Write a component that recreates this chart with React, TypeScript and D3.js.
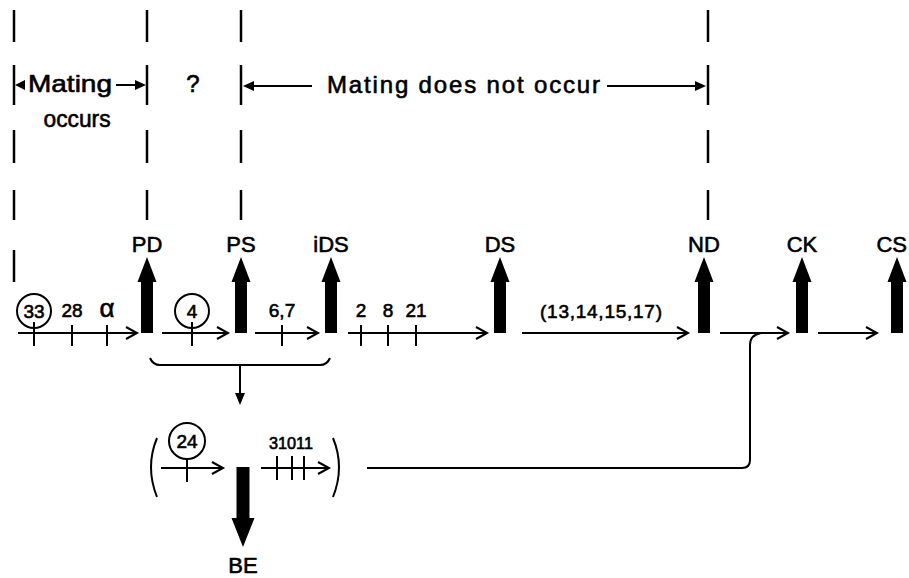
import React from "react";
import * as d3 from "d3";

const W = 909;
const H = 578;

// developmental stages on the main pathway (thick up arrows)
const stages = ["PD", "PS", "iDS", "DS", "ND", "CK", "CS"];
const stagePos = [147, 241, 331, 500, 704, 802, 897];

// thin arrows between stages: [start, end]
const mainSegments = [
  [18, 137],
  [162, 228],
  [255, 318],
  [348, 487],
  [522, 688],
  [720, 788],
  [818, 877],
];

// mutant blocks marked on the main line
const mainGenes = ["33", "28", "α", "4", "6,7", "2", "8", "21"];
const mainGenePos = [34, 72, 107, 192, 282, 361, 388, 416];
const mainGeneCircled = [true, false, false, true, false, false, false, false];

// side branch (BE)
const branchSegments = [
  [161, 223],
  [261, 329],
];
const branchGenePos = [187, 277, 292, 304];
const branchGeneLabels = ["24", "31011"];

// dashed boundaries between mating / non-mating phases
const boundaryPos = [14, 147, 241, 708];
const dashSpans = [
  [10, 42],
  [65, 105],
  [130, 163],
  [190, 220],
];

const x = d3.scaleLinear().domain([0, W]).range([0, W]);
const yMain = 333;
const yBranch = 468;
const FONT = "'Liberation Sans', Arial, sans-serif";

const chevron = (tx: number, ty: number, dir = 1) =>
  `M${tx - dir * 11},${ty - 6}L${tx},${ty}L${tx - dir * 11},${ty + 6}`;

const thickUp = (cx: number, y0: number) =>
  `M${cx - 6},${y0}L${cx - 6},${y0 - 51}L${cx - 9.5},${y0 - 51}L${cx},${y0 - 76}L${cx + 9.5},${y0 - 51}L${cx + 6},${y0 - 51}L${cx + 6},${y0}Z`;

const thickDown = (cx: number, y0: number) =>
  `M${cx - 6.5},${y0}L${cx - 6.5},${y0 + 51}L${cx - 11.5},${y0 + 51}L${cx},${y0 + 80}L${cx + 11.5},${y0 + 51}L${cx + 6.5},${y0 + 51}L${cx + 6.5},${y0}Z`;

export default function App() {
  const ln = { stroke: "#000", strokeWidth: 2, fill: "none" };
  const txt = { fontFamily: FONT, fill: "#000", stroke: "#000", strokeWidth: 0.6 };

  return (
    <svg width={W} height={H} style={{ position: "absolute", left: 0, top: 0, background: "#fff" }}>
      {/* dashed phase boundaries */}
      {boundaryPos.map((bx, i) => (
        <g key={"b" + i}>
          {dashSpans.map(([a, b], j) => (
            <line key={j} x1={x(bx)} x2={x(bx)} y1={a} y2={b} stroke="#000" strokeWidth={2.5} />
          ))}
          {i === 0 && <line x1={x(bx)} x2={x(bx)} y1={250} y2={282} stroke="#000" strokeWidth={2.5} />}
        </g>
      ))}

      {/* Mating occurs */}
      <path d={`M${x(15)},85L${x(25)},80L${x(25)},90Z`} fill="#000" />
      <text x={x(28)} y={92} fontSize={24} textLength={84} lengthAdjust="spacingAndGlyphs" {...txt}>Mating</text>
      <line x1={x(116)} x2={x(136)} y1={85} y2={85} {...ln} />
      <path d={`M${x(146)},85L${x(135)},80L${x(135)},90Z`} fill="#000" />
      <text x={x(77)} y={127} fontSize={24} textAnchor="middle" textLength={67} lengthAdjust="spacingAndGlyphs" {...txt}>occurs</text>
      <text x={x(193)} y={92} fontSize={24} textAnchor="middle" {...txt}>?</text>

      {/* Mating does not occur */}
      <path d={`M${x(243)},86L${x(254)},81L${x(254)},91Z`} fill="#000" />
      <line x1={x(253)} x2={x(312)} y1={86} y2={86} {...ln} />
      <text x={x(327)} y={93} fontSize={24} textLength={273} lengthAdjust="spacing" {...txt}>Mating does not occur</text>
      <line x1={x(607)} x2={x(697)} y1={86} y2={86} {...ln} />
      <path d={`M${x(706)},86L${x(695)},81L${x(695)},91Z`} fill="#000" />

      {/* stage arrows */}
      {stages.map((s, i) => {
        const last = i === stages.length - 1;
        return (
          <g key={s}>
            <path d={thickUp(x(stagePos[i]), yMain)} fill="#000" />
            <text
              x={last ? W - 2 : x(stagePos[i])}
              y={252}
              fontSize={22}
              textAnchor={last ? "end" : "middle"}
              {...txt}
            >
              {s}
            </text>
          </g>
        );
      })}

      {/* main thin arrows */}
      {mainSegments.map(([a, b], i) => (
        <g key={"m" + i}>
          <line x1={x(a)} x2={x(b)} y1={yMain} y2={yMain} {...ln} />
          <path d={chevron(x(b), yMain)} {...ln} />
        </g>
      ))}
      {mainGenePos.map((p, i) => (
        <g key={"g" + i}>
          <line x1={x(p)} x2={x(p)} y1={mainGeneCircled[i] ? 322 : 325} y2={346} {...ln} />
          {mainGeneCircled[i] && <circle cx={x(p)} cy={311} r={17} {...ln} />}
          <text
            x={x(p)}
            y={mainGeneCircled[i] ? 318 : 317}
            fontSize={mainGenes[i] === "α" ? 26 : 19}
            textAnchor="middle"
            {...txt}
          >
            {mainGenes[i]}
          </text>
        </g>
      ))}
      <text x={x(601)} y={318} fontSize={19} textAnchor="middle" textLength={122} lengthAdjust="spacing" {...txt}>
        (13,14,15,17)
      </text>

      {/* brace to branch */}
      <path d={`M${x(150)},358Q${x(153)},365 ${x(160)},365L${x(320)},365Q${x(327)},365 ${x(330)},358`} {...ln} />
      <line x1={x(240)} x2={x(240)} y1={365} y2={396} {...ln} />
      <path d={`M${x(235)},393L${x(240)},405L${x(245)},393Z`} fill="#000" />

      {/* branch */}
      <path d={`M${x(157)},438Q${x(145)},467 ${x(157)},497`} {...ln} />
      <path d={`M${x(333)},438Q${x(345)},467 ${x(333)},497`} {...ln} />
      {branchSegments.map(([a, b], i) => (
        <g key={"br" + i}>
          <line x1={x(a)} x2={x(b)} y1={yBranch} y2={yBranch} {...ln} />
          <path d={chevron(x(b), yBranch)} {...ln} />
        </g>
      ))}
      {branchGenePos.map((p, i) => (
        <line key={"bt" + i} x1={x(p)} x2={x(p)} y1={i === 0 ? 458 : 456} y2={i === 0 ? 482 : 480} {...ln} />
      ))}
      <circle cx={x(branchGenePos[0])} cy={441} r={18} {...ln} />
      <text x={x(branchGenePos[0])} y={448} fontSize={19} textAnchor="middle" {...txt}>{branchGeneLabels[0]}</text>
      <text x={x(291)} y={449} fontSize={16} textAnchor="middle" textLength={44} lengthAdjust="spacingAndGlyphs" {...txt}>
        {branchGeneLabels[1]}
      </text>
      <path d={thickDown(x(243), yBranch - 1)} fill="#000" />
      <text x={x(243)} y={573} fontSize={22} textAnchor="middle" {...txt}>BE</text>

      {/* return path to main line */}
      <path d={`M${x(367)},${yBranch}L${x(742)},${yBranch}Q${x(750)},${yBranch} ${x(750)},${yBranch - 8}L${x(750)},345Q${x(750)},335 ${x(761)},${yMain}`} {...ln} />
    </svg>
  );
}
